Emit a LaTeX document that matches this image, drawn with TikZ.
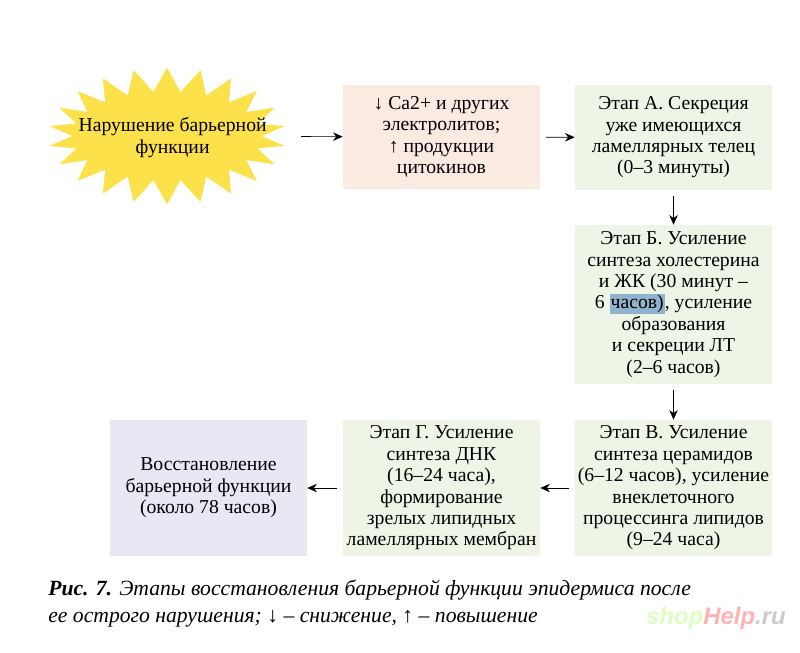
\documentclass[tikz,border=0pt]{standalone}
\usepackage{fontspec}
\setmainfont{Liberation Serif}
\newfontfamily\wmfont{Liberation Sans}
\usetikzlibrary{shapes.symbols, arrows.meta}

\definecolor{starfill}{HTML}{FCE14B}
\definecolor{pinkfill}{HTML}{FBEAE2}
\definecolor{greenfill}{HTML}{EEF4E6}
\definecolor{lilacfill}{HTML}{E9E7F3}
\definecolor{selblue}{HTML}{8FB3CB}

\tikzset{
  stagebox/.style={minimum width=4.925cm, align=center, inner sep=0pt,
    font=\fontsize{14}{15.2}\selectfont},
  flow/.style={->, >={Stealth[length=2.4mm, width=2.1mm]}, shorten <=4pt}
}

\begin{document}
\begin{tikzpicture}[x=0.025cm, y=-0.025cm]
  \useasboundingbox (0,0) rectangle (800,652);

  % Start
  \node[starburst, random starburst=0, starburst points=22,
    starburst point height=0.6cm, fill=starfill, minimum width=5.925cm,
    minimum height=3.425cm, inner sep=0pt,
    label={[align=center, font=\fontsize{14}{15.2}\selectfont, xshift=4pt, yshift=-1pt]center:Нарушение барьерной\\функции}]
    (broken) at (167,136) {};

  % Boxes
  \node[stagebox, fill=pinkfill, minimum height=2.6cm] (ions) at (441.5,137)
    {↓ Ca2+ и других\\электролитов;\\↑ продукции\\цитокинов};
  \node[stagebox, fill=greenfill, minimum height=2.625cm] (stageA) at (673.5,137.5)
    {Этап А. Секреция\\уже имеющихся\\ламеллярных телец\\(0–3 минуты)};
  \node[stagebox, fill=greenfill, minimum height=3.975cm] (stageB) at (673.5,304.5)
    {Этап Б. Усиление\\синтеза холестерина\\и ЖК (30 минут –\\6 {\setlength\fboxsep{0.8pt}\colorbox{selblue}{часов)}}, усиление\\образования\\и секреции ЛТ\\(2–6 часов)};
  \node[stagebox, fill=greenfill, minimum height=3.4cm] (stageV) at (673.5,488)
    {Этап В. Усиление\\синтеза церамидов\\(6–12 часов), усиление\\внеклеточного\\процессинга липидов\\(9–24 часа)};
  \node[stagebox, fill=greenfill, minimum height=3.4cm] (stageG) at (441.5,488)
    {Этап Г. Усиление\\синтеза ДНК\\(16–24 часа),\\формирование\\зрелых липидных\\ламеллярных мембран};
  \node[stagebox, fill=lilacfill, minimum height=3.4cm] (restored) at (208.5,488)
    {Восстановление\\барьерной функции\\(около 78 часов)};

  % Arrows
  \draw[flow, shorten <=27pt] (broken) -- (ions);
  \draw[flow] (ions) -- (stageA);
  \draw[flow] (stageA) -- (stageB);
  \draw[flow] (stageB) -- (stageV);
  \draw[flow] (stageV) -- (stageG);
  \draw[flow] (stageG) -- (restored);

  % Caption
  \node[anchor=north west, align=left, inner sep=0pt,
    font=\fontsize{15.4}{19}\selectfont\itshape] (caption) at (48,580)
    {\textbf{Рис. 7.} Этапы восстановления барьерной функции эпидермиса после\\
     ее острого нарушения; ↓ – снижение, ↑ – повышение};

  % Watermark
  \node[anchor=base east, inner sep=0pt, font=\wmfont\bfseries\itshape\fontsize{17}{17}\selectfont]
    (mark) at (786,624)
    {\textcolor{green!55!yellow!25}{shop}\textcolor{red!30}{Help}\textcolor{black!20}{.ru}};
\end{tikzpicture}
\end{document}
